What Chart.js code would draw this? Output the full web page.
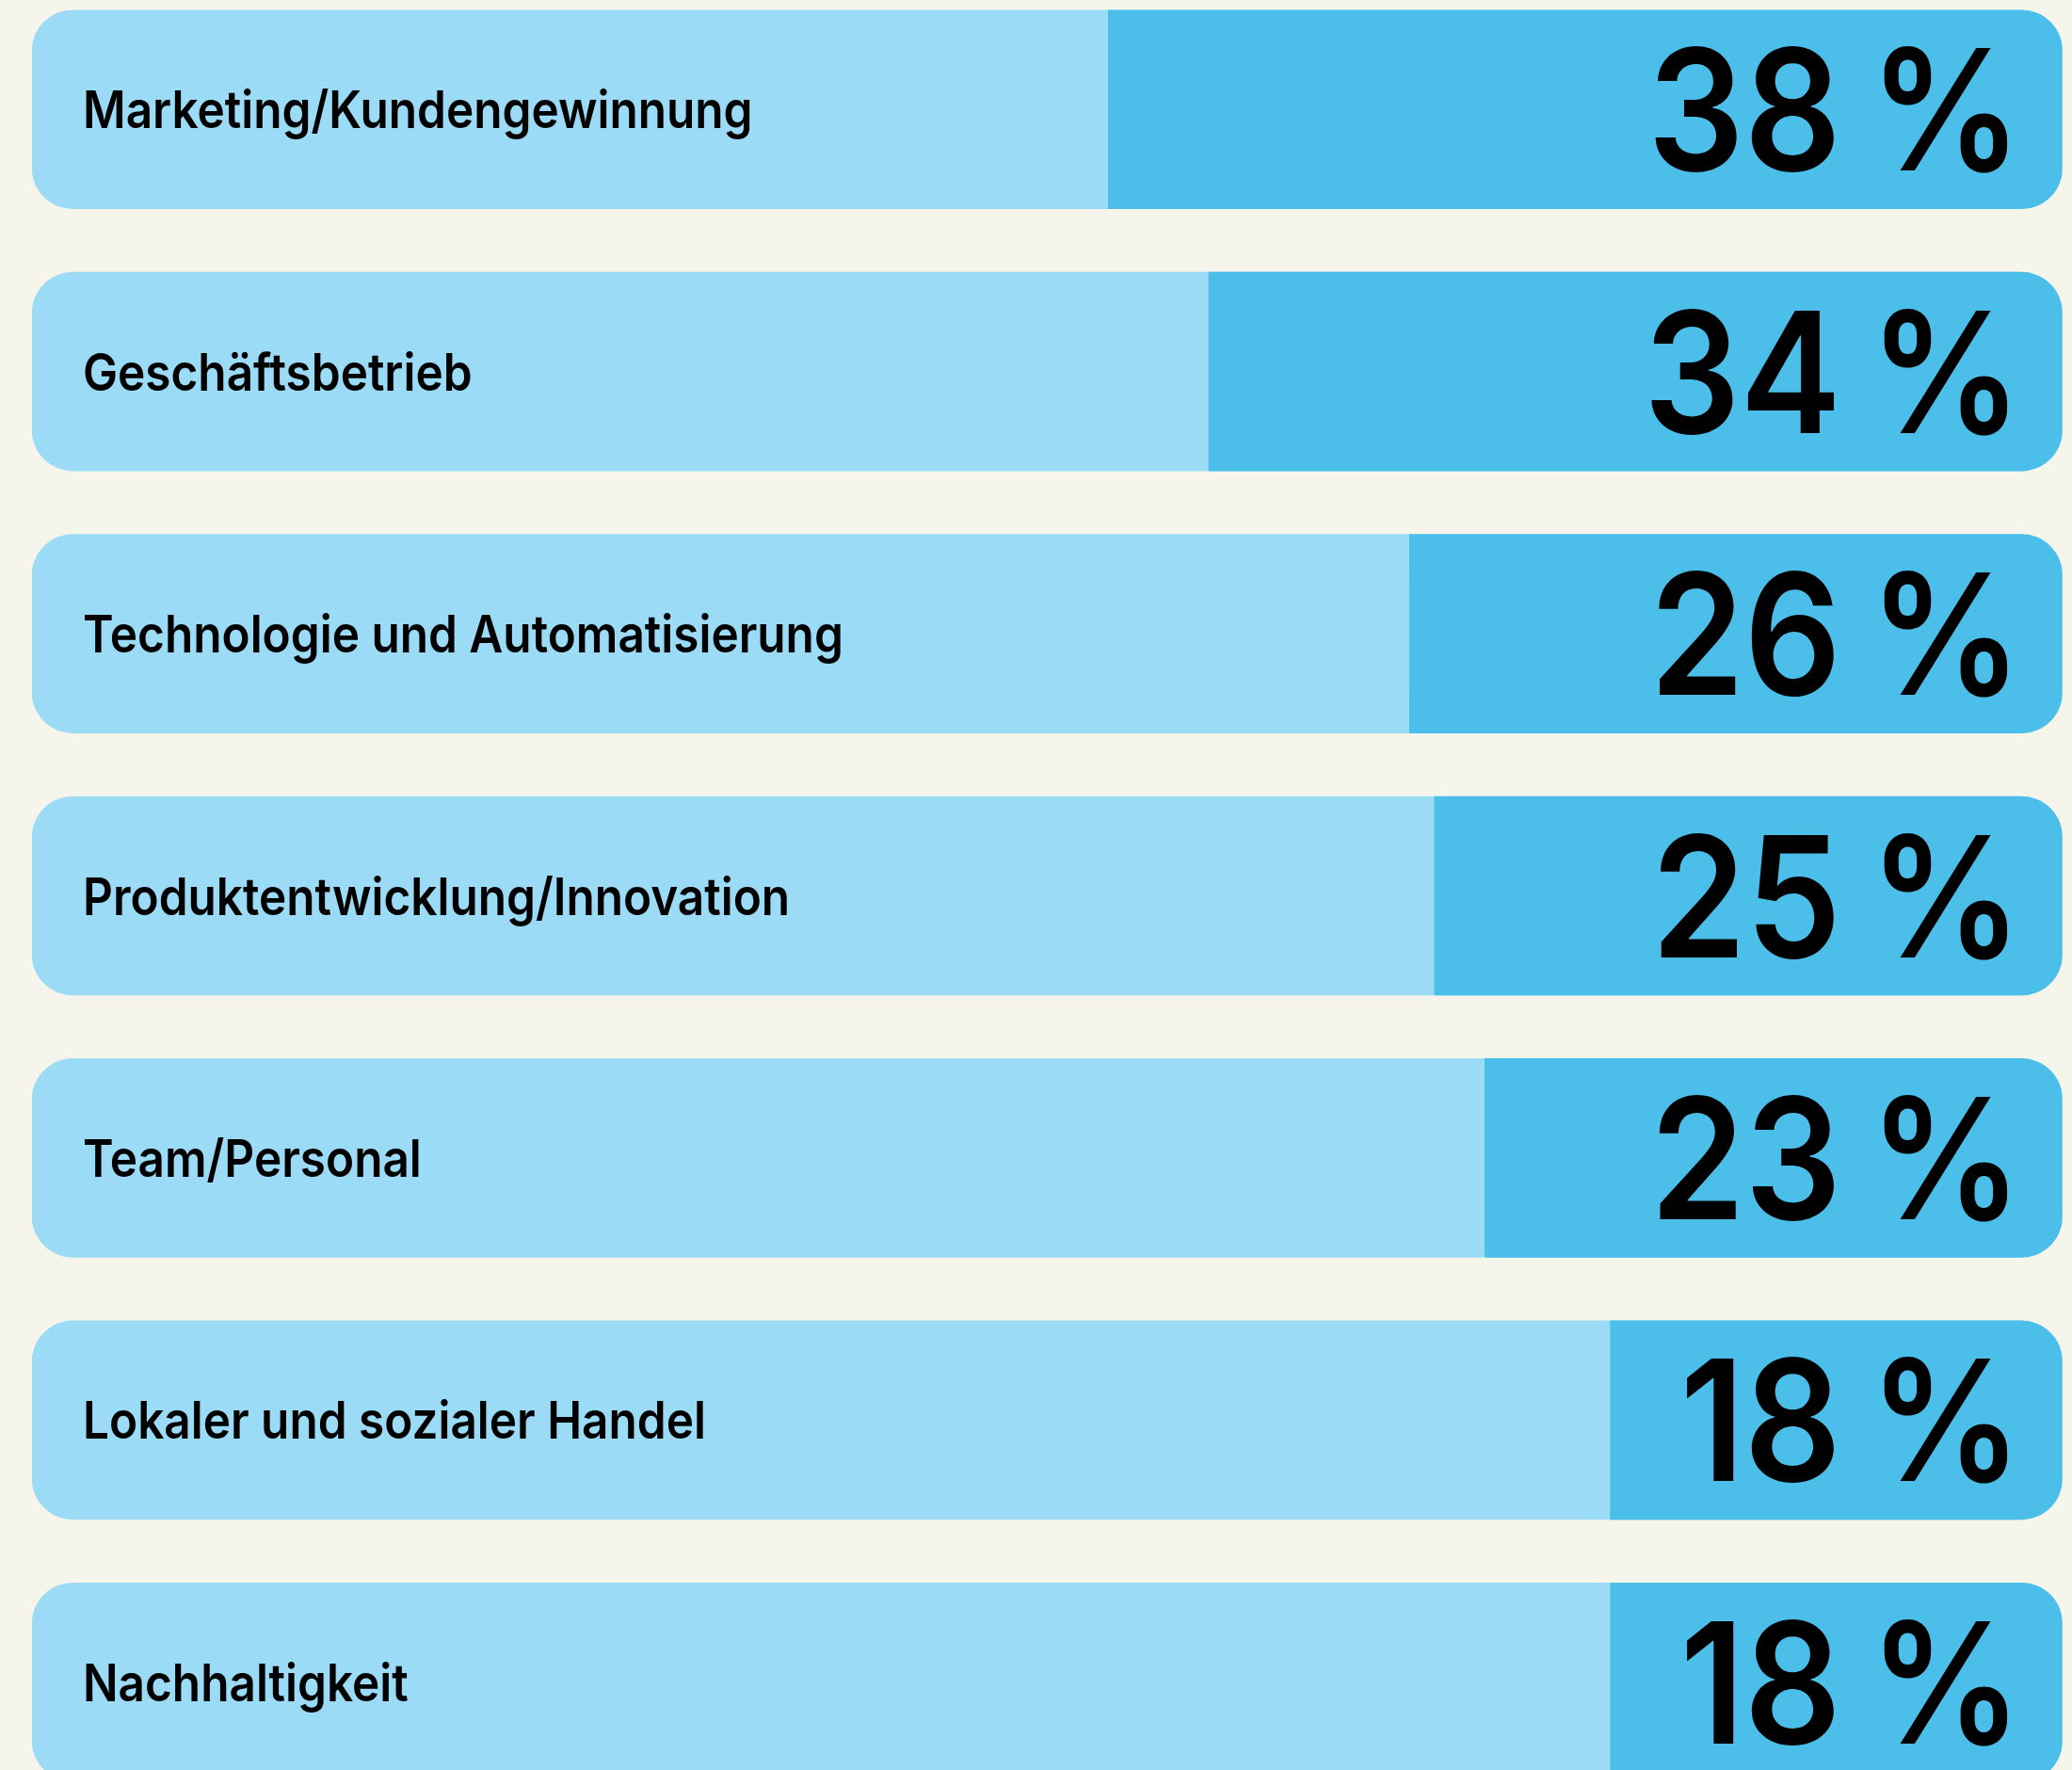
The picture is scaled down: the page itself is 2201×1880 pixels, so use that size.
<!DOCTYPE html>
<html lang="de">
<head>
<meta charset="utf-8">
<title>Schwerpunkte</title>
<script src="https://cdn.jsdelivr.net/npm/chart.js@4/dist/chart.umd.min.js"></script>
<style>
  html, body { margin: 0; padding: 0; background: #f6f5eb; overflow: hidden; }
  #rahmen { width: 2201px; height: 1880px; overflow: hidden; position: relative; }
  /* die letzte Zeile ist im Original unten angeschnitten */
  #grafik { position: absolute; left: 0; top: -23px; }
</style>
</head>
<body>
<div id="rahmen"><canvas id="grafik" width="2201" height="1949"></canvas></div>
<script>
const kategorien = [
  'Marketing/Kundengewinnung',
  'Geschäftsbetrieb',
  'Technologie und Automatisierung',
  'Produktentwicklung/Innovation',
  'Team/Personal',
  'Lokaler und sozialer Handel',
  'Nachhaltigkeit'
];
const werte = [38, 34, 26, 25, 23, 18, 18];
const einheit = '%';
// Skala der Vorlage: die volle Zeile entspricht etwa 81 Prozent
const skalaMax = 80.87;

const hell = '#9bdbf6';
const dunkel = '#4bbeea';

// Text etwas schmaler setzen (Schrift der Vorlage ist enger als Inter)
function schreiben(ctx, text, x, y, font, align, breite) {
  ctx.save();
  ctx.translate(x, y);
  ctx.scale(breite, 1);
  ctx.font = font;
  ctx.textAlign = align;
  ctx.fillText(text, 0, 0);
  ctx.restore();
}

// Texte in die Balken schreiben
const textPlugin = {
  id: 'texte',
  afterDatasetsDraw(chart) {
    const ctx = chart.ctx;
    const balken = chart.getDatasetMeta(0).data;
    const links = chart.scales.x.getPixelForValue(skalaMax);
    const zahlFont = '600 179px Inter';
    const sx = 0.9;
    ctx.save();
    ctx.fillStyle = '#000';
    ctx.textBaseline = 'alphabetic';
    ctx.font = zahlFont;
    const pctBreite = ctx.measureText(einheit).width * sx;
    balken.forEach((bar, i) => {
      schreiben(ctx, kategorien[i], links + 54, bar.y + 20, '600 55px Inter', 'left', 0.9);

      const rechts = bar.base - 43;
      schreiben(ctx, einheit, rechts, bar.y + 65, zahlFont, 'right', sx);
      schreiben(ctx, String(werte[i]), rechts - pctBreite - 30, bar.y + 65, zahlFont, 'right', sx);
    });
    ctx.restore();
  }
};

function zeichnen() {
  const ctx = document.getElementById('grafik');
  new Chart(ctx, {
    type: 'bar',
    data: {
      labels: kategorien,
      datasets: [{
        label: 'Anteil',
        data: werte,
        backgroundColor: dunkel,
        barThickness: 211,
        grouped: false,
        borderSkipped: false,
        borderRadius: { topLeft: 0, bottomLeft: 0, topRight: 44, bottomRight: 44 }
      }, {
        label: 'Gesamt',
        data: kategorien.map(() => skalaMax),
        backgroundColor: hell,
        barThickness: 211,
        grouped: false,
        borderSkipped: false,
        borderRadius: 44
      }]
    },
    options: {
      indexAxis: 'y',
      responsive: false,
      animation: false,
      layout: { padding: { left: 34, right: 10.3, top: 0, bottom: 0 } },
      scales: {
        x: { type: 'linear', min: 0, max: skalaMax, reverse: true, display: false },
        y: { display: false }
      },
      plugins: {
        legend: { display: false },
        tooltip: { enabled: false }
      }
    },
    plugins: [textPlugin]
  });
}

document.fonts.load('600 179px Inter').then(zeichnen, zeichnen);
</script>
</body>
</html>
